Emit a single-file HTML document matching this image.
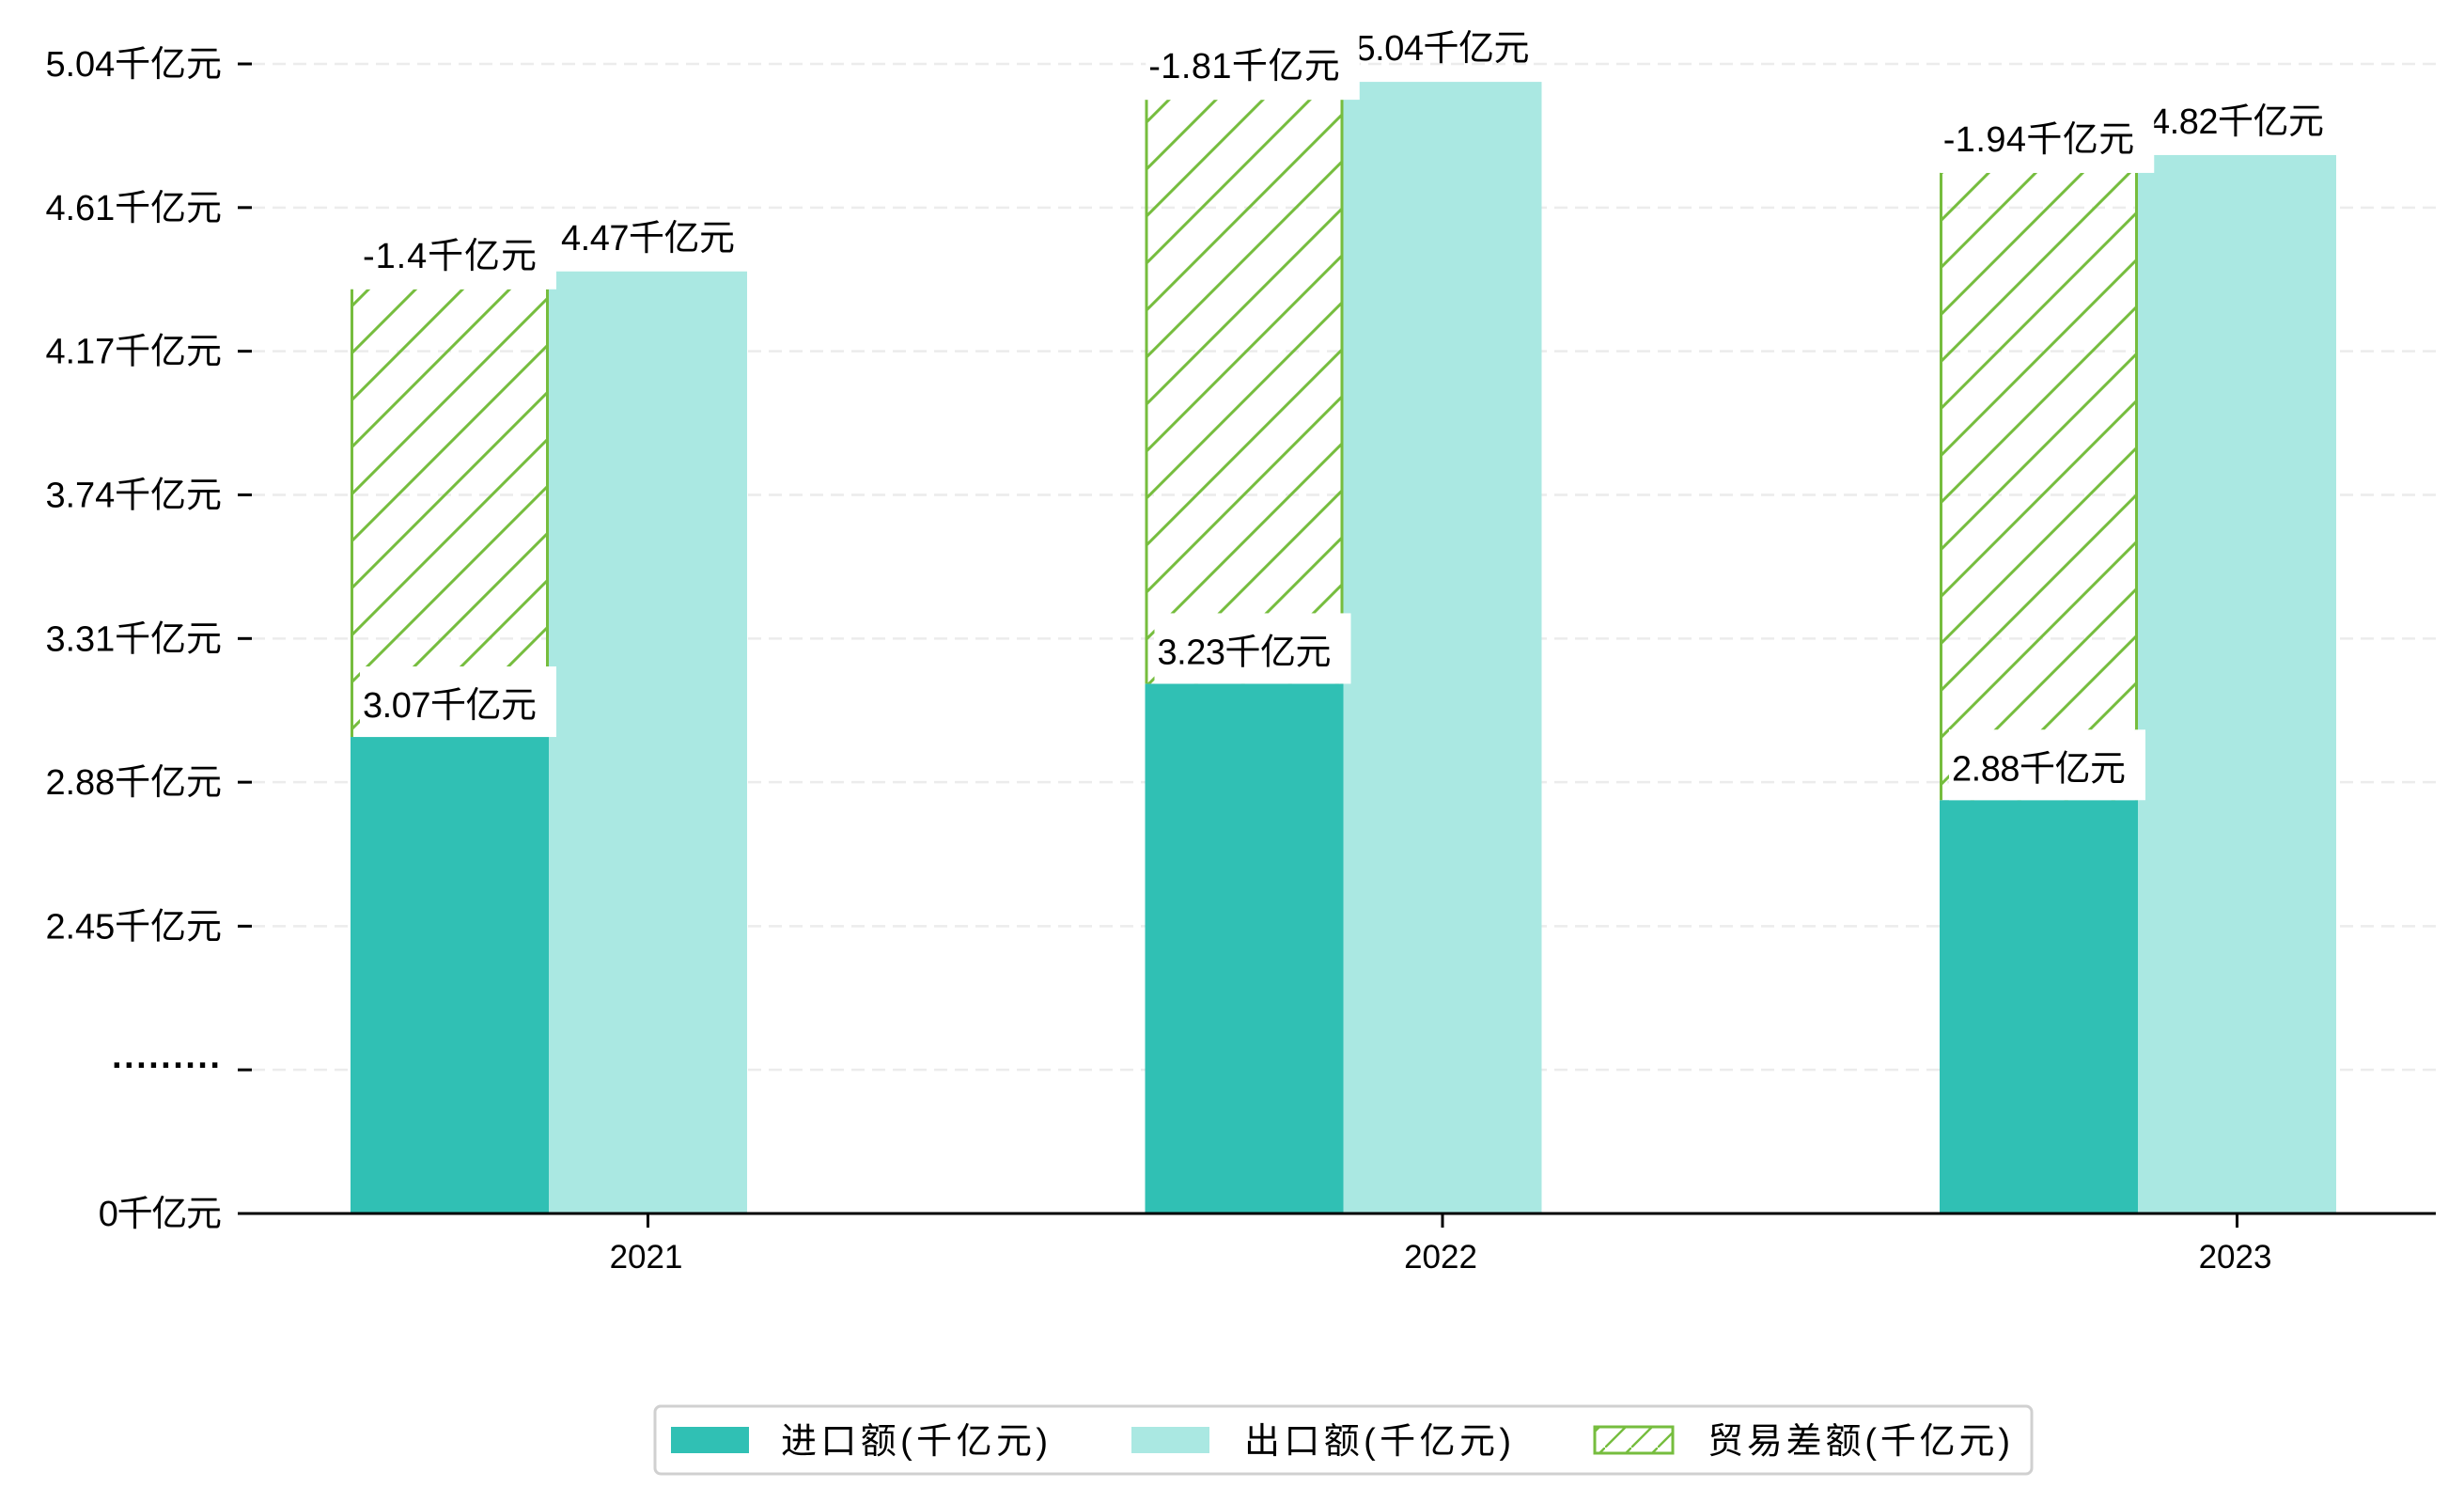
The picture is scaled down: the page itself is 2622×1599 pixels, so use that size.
<!DOCTYPE html>
<html><head><meta charset="utf-8"><style>
html,body{margin:0;padding:0;background:#fff;}
svg{display:block;font-family:"Liberation Sans","WenQuanYi Zen Hei","Noto Sans CJK SC",sans-serif;}
</style></head><body>
<svg id="chart" width="2622" height="1599" viewBox="0 0 2622 1599" xmlns="http://www.w3.org/2000/svg">
<defs>
<pattern id="hatch" patternUnits="userSpaceOnUse" width="50" height="50">
<line x1="-5" y1="55" x2="55" y2="-5" stroke="#76bd3e" stroke-width="3"/>
<line x1="-30" y1="30" x2="30" y2="-30" stroke="#76bd3e" stroke-width="3"/>
<line x1="20" y1="80" x2="80" y2="20" stroke="#76bd3e" stroke-width="3"/>
</pattern>
<pattern id="hatchSmall" patternUnits="userSpaceOnUse" width="28" height="28">
<line x1="-3" y1="31" x2="31" y2="-3" stroke="#76bd3e" stroke-width="2.4"/>
</pattern>
</defs>
<g id="grid"></g>
<g id="bars"></g>
<g id="labels"></g>
<g id="axes"></g>
<g id="legend">
<rect x="697" y="1496" width="1465" height="72" rx="6" fill="#fff" stroke="#d0d0d0" stroke-width="3"/>
<g>
<rect x="714" y="1518" width="83" height="28" fill="#30c0b4"/>
<text x="831" y="1546" font-size="38" textLength="284" lengthAdjust="spacing">进口额(千亿元)</text></g>
<g>
<rect x="1204" y="1518" width="83" height="28" fill="#aae8e2"/>
<text x="1324" y="1546" font-size="38" textLength="284" lengthAdjust="spacing">出口额(千亿元)</text></g>
<g>
<rect x="1697" y="1518" width="83" height="28" fill="url(#hatchSmall)" stroke="#76bd3e" stroke-width="3"/>
<text x="1817" y="1546" font-size="38" textLength="322" lengthAdjust="spacing">贸易差额(千亿元)</text></g>
</g>
</svg>
<script>
const years = ["2021", "2022", "2023"];
const imports = [3.07, 3.23, 2.88];
const exportsV = [4.47, 5.04, 4.82];
const balance = [-1.4, -1.81, -1.94];
const tickLabels = ["0千亿元", "·········", "2.45千亿元", "2.88千亿元", "3.31千亿元", "3.74千亿元", "4.17千亿元", "4.61千亿元", "5.04千亿元"];
const tickValues = [1.637, 2.069, 2.501, 2.934, 3.366, 3.798, 4.230, 4.662, 5.094];

const NS = "http://www.w3.org/2000/svg";
const Y0 = 1291, Y1 = 68, VMIN = 1.637, VMAX = 5.094;
function y(v){ return Y0 - (v - VMIN) / (VMAX - VMIN) * (Y0 - Y1); }
const BW = 211, STEP = 845.5, X0 = 373;
function xGroup(i){ return X0 + i * STEP; }
function mk(tag, attrs, parent){ const e = document.createElementNS(NS, tag); for (const k in attrs) e.setAttribute(k, attrs[k]); parent.appendChild(e); return e; }
function nominalWidth(s, em){ let w = 0; for (const ch of s) w += (ch.charCodeAt(0) < 256) ? em / 2 : em; return w; }

const grid = document.getElementById("grid");
const axes = document.getElementById("axes");
const bars = document.getElementById("bars");
const labels = document.getElementById("labels");

tickValues.forEach((v, i) => {
  const yy = y(v);
  if (i > 0) {
    const g = mk("line", {x1: 268, x2: 2592, y1: yy, y2: yy, stroke: "#ececec", "stroke-width": 2.5, "stroke-dasharray": "14,8"}, grid);
    
    
  }
  const tm = mk("line", {x1: 253, x2: 268, y1: yy, y2: yy, stroke: "#000", "stroke-width": 3}, axes);
  
  
  const t = mk("text", {x: 236, y: yy + 13, "text-anchor": "end", "font-size": 38}, axes);
  t.textContent = tickLabels[i];
  if (i === 1) { t.setAttribute("y", yy + 8); t.setAttribute("textLength", 117); t.setAttribute("font-weight", "bold"); }
  else { t.setAttribute("textLength", nominalWidth(tickLabels[i], 37.5)); t.setAttribute("lengthAdjust", "spacing"); }
  
  
});

const ax = mk("line", {x1: 253, x2: 2592, y1: Y0, y2: Y0, stroke: "#000", "stroke-width": 3}, axes);



years.forEach((yr, i) => {
  const gx = xGroup(i);
  const cx = gx + BW * 1.5;
  const tk = mk("line", {x1: cx, x2: cx, y1: Y0, y2: Y0 + 15, stroke: "#000", "stroke-width": 3}, axes);
  
  
  const tl = mk("text", {x: cx - 2, y: 1349, "text-anchor": "middle", "font-size": 35}, axes);
  tl.textContent = yr;
  
  

  const bi = mk("rect", {x: gx, y: y(imports[i]), width: BW, height: Y0 - y(imports[i]), fill: "#30c0b4"}, bars);
  
  
  const be = mk("rect", {x: gx + BW, y: y(exportsV[i]), width: BW, height: Y0 - y(exportsV[i]), fill: "#aae8e2"}, bars);
  
  
  const top = imports[i] + Math.abs(balance[i]);
  const hy = y(top) + 19;
  const g = mk("g", {}, bars);
  
  
  mk("rect", {x: gx, y: hy, width: BW, height: y(imports[i]) - hy, fill: "url(#hatch)"}, g);
  mk("line", {x1: gx + 1.5, x2: gx + 1.5, y1: hy, y2: y(imports[i]), stroke: "#76bd3e", "stroke-width": 3}, g);
  mk("line", {x1: gx + BW - 1.5, x2: gx + BW - 1.5, y1: hy, y2: y(imports[i]), stroke: "#76bd3e", "stroke-width": 3}, g);
});

function boxLabel(txt, cx, anchorY, base, name){
  const g = mk("g", {}, labels);
  
  
  const w = nominalWidth(txt, 37);
  mk("rect", {fill: "#fff", x: cx - w / 2 - 3, y: anchorY - 75, width: w + 24, height: 75}, g);
  const t = mk("text", {x: cx, y: anchorY - base, "text-anchor": "middle", "font-size": 38, textLength: w, lengthAdjust: "spacing"}, g);
  t.textContent = txt;
}

years.forEach((yr, i) => {
  const gx = xGroup(i);
  const txt = exportsV[i] + "千亿元";
  const te = mk("text", {x: gx + BW * 1.5, y: y(exportsV[i]) - 23, "text-anchor": "middle", "font-size": 38, textLength: nominalWidth(txt, 37), lengthAdjust: "spacing"}, labels);
  te.textContent = txt;
  
  
});
years.forEach((yr, i) => {
  const gx = xGroup(i);
  boxLabel(imports[i] + "千亿元", gx + BW / 2, y(imports[i]), 21, 'label-import-' + yr);
  const top = imports[i] + Math.abs(balance[i]);
  boxLabel(balance[i] + "千亿元", gx + BW / 2, y(top) + 19, 23, 'label-balance-' + yr);
});
</script>
</body></html>
